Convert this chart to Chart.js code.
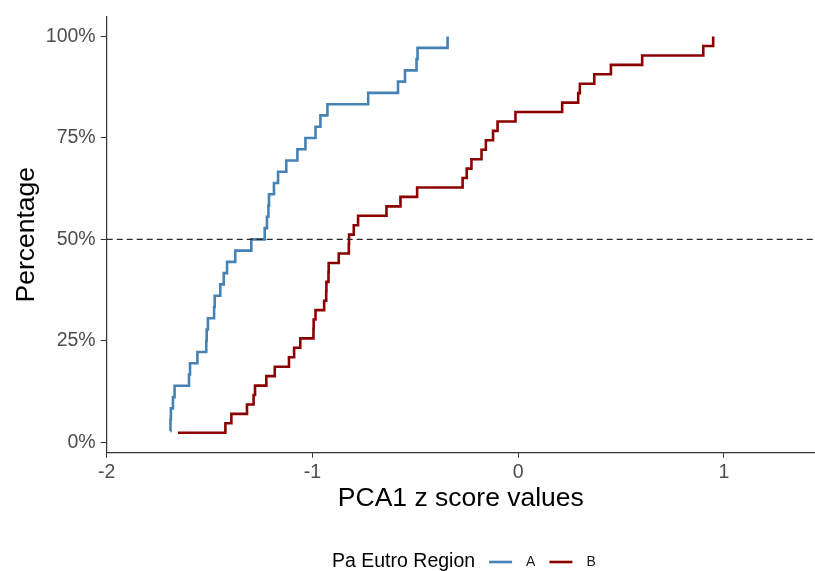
<!DOCTYPE html>
<html>
<head>
<meta charset="utf-8">
<script src="https://cdn.jsdelivr.net/npm/chart.js@4.4.1/dist/chart.umd.min.js"></script>
<style>
html,body{margin:0;padding:0;background:#fff;}
canvas{display:block;}
</style>
</head>
<body>
<canvas id="c" width="815" height="571"></canvas>
<script>
// ---- data (ECDF step points) ----
const seriesNames = ['A', 'B'];
const seriesColors = ['#4682B4', '#8B0000'];

const aX = [-1.691, -1.690, -1.688, -1.678, -1.670, -1.600, -1.595, -1.559, -1.516, -1.514,
            -1.508, -1.478, -1.475, -1.448, -1.431, -1.415, -1.375, -1.297, -1.232, -1.221,
            -1.214, -1.211, -1.187, -1.167, -1.127, -1.073, -1.034, -0.985, -0.961, -0.927,
            -0.729, -0.584, -0.550, -0.494, -0.489, -0.343];
const aPct = [2.78, 5.56, 8.33, 11.11, 13.89, 16.67, 19.44, 22.22, 25.00, 27.78,
              30.56, 33.33, 36.11, 38.89, 41.67, 44.44, 47.22, 50.00, 52.78, 55.56,
              58.33, 61.11, 63.89, 66.67, 69.44, 72.22, 75.00, 77.78, 80.56, 83.33,
              86.11, 88.89, 91.67, 94.44, 97.22, 100];

const bX = [-1.654, -1.423, -1.394, -1.318, -1.286, -1.279, -1.224, -1.183, -1.114, -1.089,
            -1.059, -0.995, -0.994, -0.985, -0.943, -0.933, -0.932, -0.922, -0.921, -0.872,
            -0.823, -0.822, -0.799, -0.778, -0.640, -0.572, -0.491, -0.270, -0.250, -0.227,
            -0.178, -0.157, -0.122, -0.100, -0.013, 0.214, 0.292, 0.300, 0.370, 0.451,
            0.603, 0.900, 0.948];
const bPct = [2.33, 4.65, 6.98, 9.30, 11.63, 13.95, 16.28, 18.60, 20.93, 23.26,
              25.58, 27.91, 30.23, 32.56, 34.88, 37.21, 39.53, 41.86, 44.19, 46.51,
              48.84, 51.16, 53.49, 55.81, 58.14, 60.47, 62.79, 65.12, 67.44, 69.77,
              72.09, 74.42, 76.74, 79.07, 81.40, 83.72, 86.05, 88.37, 90.70, 93.02,
              95.35, 97.67, 100];

const xTicks = [-2, -1, 0, 1];
const yTicks = [0, 25, 50, 75, 100];
const refPct = 50;
const xRange = [-2, 1.443];
const yRange = [-2.6, 104.9];

const xTitle = 'PCA1 z score values';
const yTitle = 'Percentage';
const legendTitle = 'Pa Eutro Region';

// ---- chart ----
const FONT = "'Liberation Sans', Arial, sans-serif";
const toPts = (xs, ys) => xs.map((x, i) => ({x: x, y: ys[i]}));

const legendPlugin = {
  id: 'ggLegend',
  afterDraw(chart) {
    const c = chart.ctx;
    c.save();
    const y = 562;
    c.textBaseline = 'middle';
    c.textAlign = 'left';
    c.font = '19.5px ' + FONT;
    c.fillStyle = '#000';
    let x = 332;
    c.fillText(legendTitle, x, y);
    x += c.measureText(legendTitle).width + 14;
    c.font = '14px ' + FONT;
    seriesNames.forEach((name, i) => {
      c.strokeStyle = seriesColors[i];
      c.lineWidth = 2.6;
      c.beginPath();
      c.moveTo(x, y);
      c.lineTo(x + 23, y);
      c.stroke();
      x += 23 + 14;
      c.fillStyle = '#1a1a1a';
      c.fillText(name, x, y);
      x += c.measureText(name).width + 14;
    });
    c.restore();
  }
};

new Chart(document.getElementById('c'), {
  type: 'scatter',
  data: {
    datasets: [
      {
        label: 'ref',
        data: [{x: xRange[0], y: refPct}, {x: xRange[1], y: refPct}],
        showLine: true,
        borderColor: '#2b2b2b',
        borderWidth: 1.3,
        borderDash: [6, 4],
        pointRadius: 0,
        fill: false
      },
      {
        label: seriesNames[0],
        data: toPts(aX, aPct),
        showLine: true,
        stepped: 'before',
        borderColor: seriesColors[0],
        borderWidth: 2.6,
        pointRadius: 0,
        fill: false
      },
      {
        label: seriesNames[1],
        data: toPts(bX, bPct),
        showLine: true,
        stepped: 'before',
        borderColor: seriesColors[1],
        borderWidth: 2.6,
        pointRadius: 0,
        fill: false
      }
    ]
  },
  options: {
    responsive: false,
    animation: false,
    devicePixelRatio: 1,
    layout: {padding: {top: 15, right: 0, bottom: 40, left: 0}},
    plugins: {legend: {display: false}, tooltip: {enabled: false}},
    scales: {
      x: {
        type: 'linear',
        min: xRange[0],
        max: xRange[1],
        afterBuildTicks: s => { s.ticks = xTicks.map(v => ({value: v})); },
        afterFit: s => { s.height = 78.3; },
        grid: {display: true, drawOnChartArea: false, drawTicks: true, tickLength: 5, color: '#333333', lineWidth: 1},
        border: {display: true, color: '#333333', width: 1.2},
        ticks: {
          color: '#4D4D4D',
          font: {family: FONT, size: 19.5},
          padding: 3,
          maxRotation: 0,
          autoSkip: false,
          callback: v => String(v)
        },
        title: {
          display: true,
          text: xTitle,
          color: '#000',
          font: {family: FONT, size: 26.5},
          padding: {top: 0, bottom: 16}
        }
      },
      y: {
        type: 'linear',
        min: yRange[0],
        max: yRange[1],
        afterBuildTicks: s => { s.ticks = yTicks.map(v => ({value: v})); },
        afterFit: s => { s.width = 106.7; },
        grid: {display: true, drawOnChartArea: false, drawTicks: true, tickLength: 6, color: '#333333', lineWidth: 1},
        border: {display: true, color: '#333333', width: 1.2},
        ticks: {
          color: '#4D4D4D',
          font: {family: FONT, size: 19.5},
          padding: 5,
          autoSkip: false,
          callback: v => v + '%'
        },
        title: {
          display: true,
          text: yTitle,
          color: '#000',
          font: {family: FONT, size: 26.5},
          padding: {top: 11, bottom: 0}
        }
      }
    }
  },
  plugins: [legendPlugin]
});
</script>
</body>
</html>
